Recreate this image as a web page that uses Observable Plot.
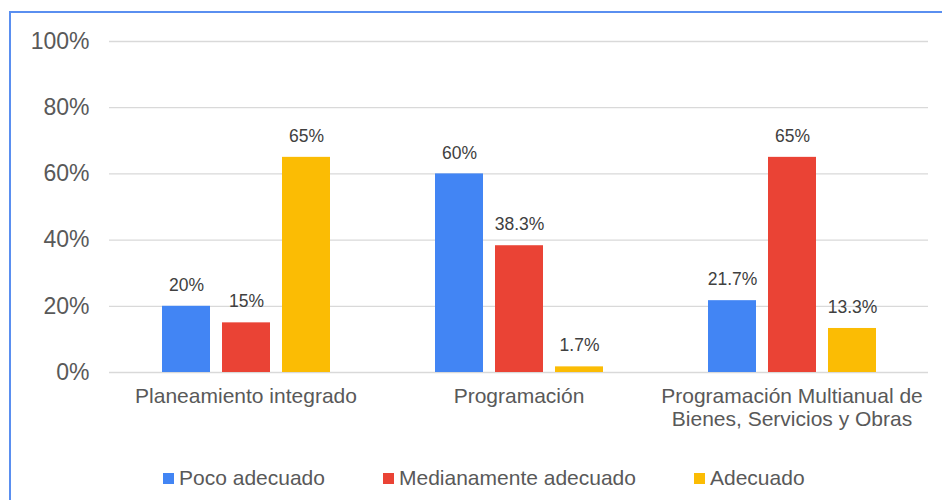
<!DOCTYPE html>
<html><head><meta charset="utf-8">
<script src="https://cdn.jsdelivr.net/npm/d3@7"></script>
<script src="https://cdn.jsdelivr.net/npm/@observablehq/plot@0.6"></script>
<style>
body{margin:0;background:#fff;font-family:"Liberation Sans",Arial,sans-serif;}
#wrap{position:relative;width:942px;height:500px;overflow:hidden;}
#frame{position:absolute;left:9px;top:11px;width:1000px;height:600px;border-left:2px solid #5a8ff0;border-top:2px solid #5a8ff0;}
#chart{position:absolute;left:0;top:0;}
#legend{position:absolute;left:163px;top:466px;display:flex;align-items:center;font-size:21px;color:#595959;white-space:nowrap;}
.item{display:flex;align-items:center;margin-right:58px;}
.sw{width:11px;height:11px;margin-right:5px;}
</style></head>
<body>
<div id="wrap"><div id="frame"></div><div id="chart"></div><div id="legend"></div></div>
<script>
const categories = ["Planeamiento integrado", "Programación", "Programación Multianual de\nBienes, Servicios y Obras"];
const series = ["Poco adecuado", "Medianamente adecuado", "Adecuado"];
const colors = ["#4285F4", "#EA4335", "#FBBC04"];
const pocoAdecuado = [20, 60, 21.7];
const medianamenteAdecuado = [15, 38.3, 65];
const adecuado = [65, 1.7, 13.3];
const yTicks = [0, 20, 40, 60, 80, 100];

const seriesValues = [pocoAdecuado, medianamenteAdecuado, adecuado];
const table = [];
categories.forEach((c, i) => series.forEach((s, j) => table.push({category: c, series: s, value: seriesValues[j][i]})));

const chart = Plot.plot({
  width: 942, height: 460,
  marginLeft: 109, marginRight: 14, marginTop: 41, marginBottom: 88,
  style: {fontFamily: "'Liberation Sans', Arial, sans-serif", background: "transparent", color: "#595959"},
  fx: {domain: categories, padding: 0, label: null, axis: null},
  x: {domain: series, paddingInner: 0.207, paddingOuter: 0.86, axis: null},
  y: {domain: [0, 100], label: null, axis: null},
  color: {domain: series, range: colors},
  marks: [
    Plot.ruleY(yTicks, {stroke: "#d9d9d9", strokeWidth: 1.3}),
    Plot.axisY(yTicks, {tickSize: 0, tickPadding: 20, tickFormat: d => d + "%", fontSize: 23, label: null}),
    Plot.axisFx({anchor: "bottom", tickSize: 0, tickPadding: 13, fontSize: 21, lineHeight: 1.14, label: null}),
    Plot.barY(table, {fx: "category", x: "series", y: "value", fill: "series"}),
    Plot.text(table, {fx: "category", x: "series", y: "value", text: d => d.value + "%", dy: -21, fontSize: 17.5, fill: "#404040"})
  ]
});
document.getElementById("chart").appendChild(chart);

const legend = document.getElementById("legend");
series.forEach((s, i) => {
  const item = document.createElement("div");
  item.className = "item";
  const sw = document.createElement("div");
  sw.className = "sw";
  sw.style.background = colors[i];
  const t = document.createElement("span");
  t.textContent = s;
  item.appendChild(sw); item.appendChild(t);
  legend.appendChild(item);
});
</script>
</body></html>
